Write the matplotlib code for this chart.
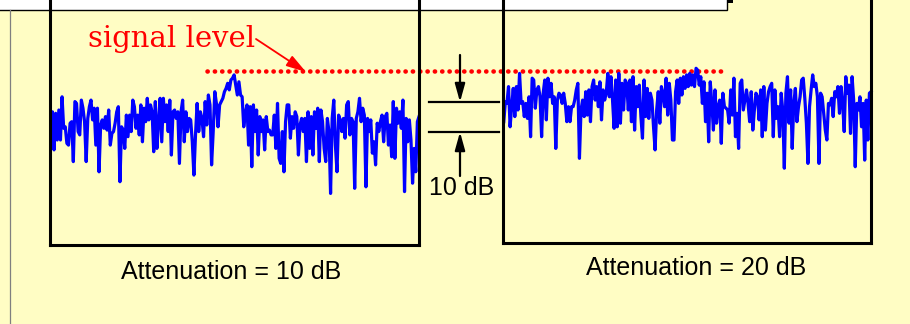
import matplotlib
matplotlib.use("Agg")
import matplotlib.pyplot as plt
import numpy as np
from matplotlib.patches import Rectangle

# ---- data (levels in dB relative to the signal level) ----
left_trace_db = [
    -24.7, -13.6, -26.3, -14.1, -23.0, -13.0, -23.0, -8.6, -19.1, -18.6, -24.1, -24.7,
    -17.4, -16.9, -30.2, -10.2, -10.8, -20.2, -21.3, -9.7, -12.4, -16.9, -30.2, -15.8,
    -11.9, -9.7, -16.3, -12.4, -24.7, -12.4, -33.6, -18.0, -16.3, -19.1, -15.2, -19.7,
    -13.0, -24.7, -20.8, -20.2, -17.4, -13.6, -11.9, -36.9, -18.6, -19.7, -25.8, -14.7,
    -21.9, -14.7, -20.2, -9.7, -11.9, -19.1, -14.7, -21.3, -11.3, -23.6, -12.4, -16.9,
    -9.1, -16.3, -11.3, -13.6, -26.9, -10.2, -25.8, -16.9, -9.1, -23.6, -9.1, -16.9,
    -11.3, -20.2, -9.7, -28.0, -13.6, -13.0, -15.8, -13.6, -30.8, -13.6, -9.7, -23.6,
    -13.6, -20.2, -15.8, -16.3, -23.6, -34.7, -21.3, -10.8, -20.2, -13.6, -15.8, -21.9,
    -10.2, -18.0, -8.0, -11.3, -31.3, -20.2, -6.9, -10.8, -18.6, -11.3, -10.2, -9.1,
    -6.9, -5.8, -4.1, -6.3, -3.0, -2.4, -1.3, -4.7, -8.0, -3.6, -8.0, -8.6,
    -18.6, -14.1, -11.3, -24.7, -11.9, -31.9, -11.3, -20.2, -13.0, -28.0, -15.2, -20.2,
    -16.3, -26.3, -15.2, -20.2, -19.7, -21.3, -21.3, -14.7, -25.8, -10.8, -29.1, -30.8,
    -20.2, -33.6, -16.9, -11.3, -11.3, -22.4, -15.2, -19.1, -13.6,
    -15.2, -28.0, -18.0, -15.8, -20.2, -15.8, -30.2, -13.6, -25.8, -15.2, -28.0, -13.6,
    -19.1, -12.4, -30.2, -13.0, -16.9, -25.8, -30.2, -15.8, -20.2, -40.8, -15.8, -9.7,
    -24.7, -33.6, -14.7, -16.3, -20.2, -15.8, -22.4, -11.3, -10.2, -21.3, -15.8, -16.9,
    -39.1, -15.8, -13.6, -9.1, -16.9, -12.4, -14.7, -38.6, -15.8, -20.2, -16.3, -27.4,
    -23.6, -31.3, -17.4, -20.2, -16.9, -14.7, -23.6, -15.2, -14.1, -24.7, -18.0, -28.6,
    -10.2, -29.1, -12.4, -17.4, -13.6, -19.1, -9.7, -40.2, -15.8, -23.6, -16.3, -23.0,
    -37.4, -25.8, -33.6, -16.9, -15.2,
]

right_trace_db = [
    -16.9, -10.2, -10.8, -5.2, -18.6, -11.9, -5.8, -15.2, -5.2, -13.0, -0.8, -10.8,
    -10.2, -15.2, -10.8, -15.8, -8.6, -21.9, -2.4, -3.0, -12.4, -6.3, -5.2, -8.6,
    -21.9, -7.4, -3.0, -16.3, -2.4, -8.6, -4.1, -10.8, -8.6, -25.8, -9.7, -7.4,
    -8.0, -10.8, -7.4, -10.8, -16.9, -11.9, -16.9, -11.9, -11.9, -9.7, -6.3, -4.1,
    -29.1, -13.0, -9.7, -15.2, -6.9, -14.7, -6.3, -16.9, -5.2, -3.0, -9.7, -5.2,
    -11.9, -3.6, -16.3, -6.3, -9.7, -7.4, -0.8, -8.6, -1.9, -9.7, -19.1, -3.0,
    -18.6, -0.8, -17.4, -4.1, -13.0, -3.0,
    -4.1, -13.0, -3.0, -16.9, -1.9, -19.7, -5.2, -11.9, -4.7, -15.2, -22.4, -3.0,
    -15.2, -5.8, -15.8, -7.4, -9.7, -18.6, -26.3, -13.0, -6.9, -17.4, -5.2, -7.4,
    -11.9, -2.4, -14.7, -4.1, -9.7, -23.0, -23.0, -6.9, -3.0, -10.8, -2.4, -8.0,
    -1.9, -5.8, -1.3, -5.2, -0.8, -4.7, -1.3, -5.2, 0.9, 0.3, -4.7, -1.9,
    -10.8, -3.6, -16.9, -7.4, -23.6, -3.6, -10.8, -19.7, -6.3, -17.4, -11.9, -9.7,
    -24.1, -7.4, -11.9, -12.4, -13.0, -17.4, -6.3, -14.7, -2.4, -21.9, -14.1, -25.8,
    -4.1, -3.0, -13.0, -9.7, -6.3, -10.8,
    -16.9, -6.9, -19.7, -13.0, -7.4, -8.6, -16.3, -6.3, -21.9, -5.2, -19.7, -10.8,
    -6.9, -5.2, -4.1, -21.9, -6.3, -15.8, -11.9, -21.9, -7.4, -13.0, -32.4, -7.4,
    -1.9, -17.4, -6.3, -25.8, -10.8, -5.8, -16.9, -11.9, -8.6, -3.0, -2.4, -9.1,
    -17.4, -30.8, -11.9, -6.3, -1.3, -5.2, -4.1, -8.6, -30.8, -7.4, -8.6, -14.1,
    -19.7, -23.0, -10.8, -11.3, -9.1, -15.2, -6.9, -8.6, -5.2, -14.1, -5.2, -10.8,
    -20.2, -1.9, -7.4, -4.7, -20.8, -1.9, -9.7, -31.9, -10.8, -13.0, -8.6, -18.6,
    -10.8, -29.7, -9.7, -23.0, -7.4, -6.9,
]

signal_level_db = 0.0
step_db = 10
labels = ["Attenuation = 10 dB", "Attenuation = 20 dB"]
signal_text = "signal level"
step_text = "10 dB"

# ---- styling ----
BG = "#FFFDC4"
BLUE = "#0000FF"
RED = "#FF0000"
W, H = 910, 324

fig = plt.figure(figsize=(W / 100, H / 100), dpi=100, facecolor=BG)

# overlay axes in pixel coordinates for decorations
ax0 = fig.add_axes([0, 0, 1, 1])
ax0.set_xlim(0, W)
ax0.set_ylim(H, 0)
ax0.axis("off")
ax0.set_facecolor("none")

# white strip at the top with border
ax0.add_patch(Rectangle((-2, -2), 729, 12, facecolor="white", edgecolor="black", lw=1.0, zorder=1))
ax0.add_patch(Rectangle((727, 0), 6, 3, facecolor="black", edgecolor="none", zorder=1))
# thin gray line at left
ax0.plot([10, 10], [10, H], color="#7f7f7f", lw=0.9, zorder=1)

# signal-level dotted line
ax0.plot([207, 723], [71, 71], color=RED, lw=3.3, linestyle=(0, (0.05, 1.55)),
         dash_capstyle="round", zorder=2)

ax0.text(88, 47, signal_text, color=RED, fontsize=21, family="DejaVu Serif",
         ha="left", va="baseline", zorder=3)
ax0.annotate("", xy=(306, 72), xytext=(256, 39),
             arrowprops=dict(arrowstyle="-|>,head_length=0.6,head_width=0.18",
                             color=RED, lw=1.3, mutation_scale=20,
                             shrinkA=0, shrinkB=0), zorder=3)

# 10 dB step markers
ax0.plot([429, 499], [102, 102], color="black", lw=1.6, zorder=3)
ax0.plot([429, 499], [132, 132], color="black", lw=1.6, zorder=3)
arrow_kw = dict(arrowstyle="-|>,head_length=0.54,head_width=0.15", color="black",
                lw=1.6, mutation_scale=20, shrinkA=0, shrinkB=0)
ax0.annotate("", xy=(460, 102), xytext=(460, 55), arrowprops=arrow_kw, zorder=3)
ax0.annotate("", xy=(460, 132), xytext=(460, 176), arrowprops=arrow_kw, zorder=3)
ax0.text(462, 188, step_text, fontsize=18, family="Liberation Sans",
         ha="center", va="center", zorder=3)

# labels
ax0.text(231, 272, labels[0], fontsize=18, family="Liberation Sans",
         ha="center", va="center")
ax0.text(696, 268, labels[1], fontsize=18, family="Liberation Sans",
         ha="center", va="center")


def make_box(x0, x1, ybot, trace):
    top_db = 30.0
    px_per_db = 3.0
    bot_db = signal_level_db - (ybot - 71) / px_per_db
    height_px = (top_db - bot_db) * px_per_db
    ax = fig.add_axes([x0 / W, (H - ybot) / H, (x1 - x0) / W, height_px / H])
    ax.set_facecolor("none")
    n = len(trace)
    ax.plot(np.arange(n), trace, color=BLUE, lw=2.3, clip_on=False,
            solid_joinstyle="round")
    ax.set_xlim(-0.5, n - 1)
    ax.set_ylim(bot_db, top_db)
    ax.set_xticks([])
    ax.set_yticks([])
    for s in ("left", "right", "bottom"):
        ax.spines[s].set_linewidth(2.2)
        ax.spines[s].set_color("black")
    ax.spines["top"].set_visible(False)
    return ax


make_box(50, 419, 245, left_trace_db)
make_box(503, 871, 243, right_trace_db)

fig.savefig("out.png", dpi=100, facecolor=BG)
